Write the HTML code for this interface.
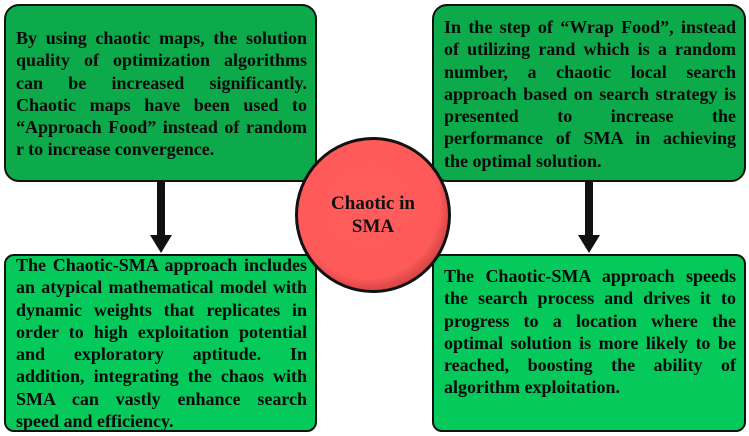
<!DOCTYPE html>
<html><head><style>
body{margin:0;width:749px;height:436px;background:#fff;position:relative;overflow:hidden;font-family:"Liberation Serif",serif;}
.box{position:absolute;box-sizing:border-box;border:2.5px solid #111;padding:0 8px 0 10px;font-weight:bold;font-size:18px;line-height:22.3px;color:#0a0a0a;white-space:nowrap;overflow:hidden;}
.box div{text-align:justify;text-align-last:justify;}
.box div.l{text-align-last:left;}
.dk{background:#0daa4b;border-radius:15px;}
.lt{background:#05c95b;border-radius:10px;}
.circ{position:absolute;left:295px;top:137px;width:156px;height:156px;border-radius:50%;box-sizing:border-box;border:3px solid #111;background:radial-gradient(circle at 46% 44%,#ff5d5d 0,#ff5a5a 62%,#e04a4a 70%,#a83636 100%);display:flex;align-items:center;justify-content:center;text-align:center;font-weight:bold;font-size:19px;line-height:23px;color:#111;}
</style></head><body>
<div class="box dk" style="left:4px;top:4px;width:313px;height:178px;padding-top:21px;">
<div>By using chaotic maps, the solution</div>
<div>quality of optimization algorithms</div>
<div>can be increased significantly.</div>
<div>Chaotic maps have been used to</div>
<div>“Approach Food” instead of random</div>
<div class="l">r to increase convergence.</div>
</div>
<div class="box dk" style="left:432px;top:4px;width:314px;height:178px;padding-top:10px;">
<div>In the step of “Wrap Food”, instead</div>
<div>of utilizing rand which is a random</div>
<div>number, a chaotic local search</div>
<div>approach based on search strategy is</div>
<div>presented to increase the</div>
<div>performance of SMA in achieving</div>
<div class="l">the optimal solution.</div>
</div>
<div class="box lt" style="left:4px;top:254px;width:313px;height:178px;padding-top:0px;">
<div style="margin-top:-2px">The Chaotic-SMA approach includes</div>
<div>an atypical mathematical model with</div>
<div>dynamic weights that replicates in</div>
<div>order to high exploitation potential</div>
<div>and exploratory aptitude. In</div>
<div>addition, integrating the chaos with</div>
<div>SMA can vastly enhance search</div>
<div class="l">speed and efficiency.</div>
</div>
<div class="box lt" style="left:432px;top:254px;width:314px;height:178px;padding-top:9px;">
<div>The Chaotic-SMA approach speeds</div>
<div>the search process and drives it to</div>
<div>progress to a location where the</div>
<div>optimal solution is more likely to be</div>
<div>reached, boosting the ability of</div>
<div class="l">algorithm exploitation.</div>
</div>
<svg style="position:absolute;left:0;top:0" width="749" height="436">
<rect x="157" y="181" width="8" height="55" fill="#111"/>
<polygon points="150,235 172,235 161,253" fill="#111"/>
<rect x="585" y="181" width="8" height="55" fill="#111"/>
<polygon points="578,235 600,235 589,253" fill="#111"/>
</svg>
<div class="circ">Chaotic in<br>SMA</div>
</body></html>
